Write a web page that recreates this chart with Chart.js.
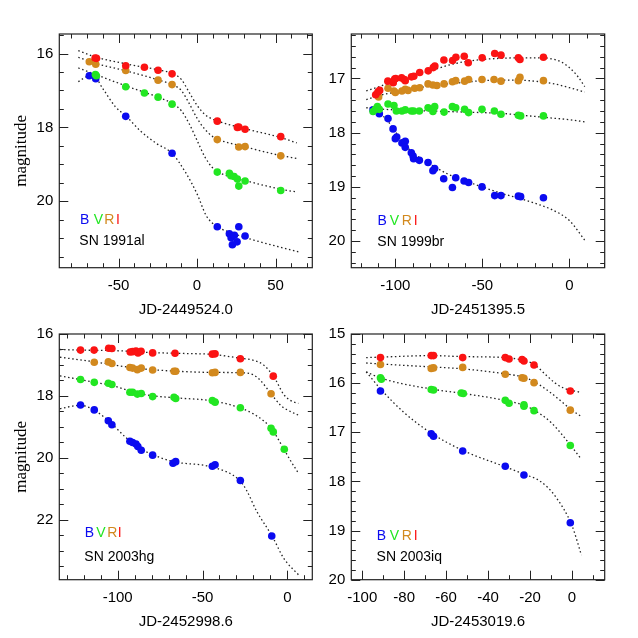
<!DOCTYPE html>
<html>
<head>
<meta charset="utf-8">
<script src="https://cdn.jsdelivr.net/npm/chart.js@4.4.0/dist/chart.umd.min.js"></script>
<style>
  body { margin: 0; background: #fff; }
  #wrap { position: relative; width: 638px; height: 638px; }
  canvas { position: absolute; }
</style>
</head>
<body>
<div id="wrap">
  <canvas id="p1" width="319" height="319" style="left:0;top:0"></canvas>
  <canvas id="p2" width="319" height="319" style="left:319px;top:0"></canvas>
  <canvas id="p3" width="319" height="319" style="left:0;top:319px"></canvas>
  <canvas id="p4" width="319" height="319" style="left:319px;top:319px"></canvas>
</div>
<script>
// band colours
const bandColors = { B: '#0b0bf0', V: '#22e622', R: '#d2891e', I: '#fb1313' };
const bands = ['I', 'R', 'V', 'B'];

// ---- SN 1991al  (JD-2449524.0) ----
const al_B = [[-68.6,16.6],[-64.5,16.68],[-45.4,17.7],[-15.9,18.7],[12.9,20.69],[20.6,20.88],[21.7,20.99],[22.5,21.18],[23.8,20.92],[25.5,21.1],[26.6,20.69],[30.6,20.94]];
const al_V = [[-64.7,16.57],[-64.1,16.6],[-45.4,16.9],[-33.5,17.07],[-24.8,17.18],[-15.9,17.37],[12.9,19.21],[20.6,19.24],[21.6,19.31],[23.6,19.33],[25.7,19.4],[26.6,19.59],[30.6,19.45],[53.3,19.71]];
const al_R = [[-68.6,16.22],[-64.5,16.29],[-45.4,16.46],[-24.8,16.72],[-15.9,16.84],[12.9,18.33],[26.6,18.53],[30.6,18.52],[53.3,18.77]];
const al_I = [[-64.9,16.12],[-64.0,16.13],[-45.4,16.33],[-33.5,16.37],[-24.8,16.45],[-15.9,16.55],[12.9,17.83],[25.7,18.0],[26.6,17.99],[30.6,18.05],[53.3,18.25]];
const al_fitB = [[-75.6,16.76],[-70,16.62],[-66,16.6],[-60,16.95],[-52,17.44],[-45,17.7],[-36,18.1],[-26,18.43],[-16,18.7],[-7,19.24],[0,19.8],[6,20.4],[13,20.69],[23,20.87],[36,21.05],[64.5,21.37]];
const al_fitV = [[-75.6,16.39],[-65,16.56],[-45,16.88],[-25,17.18],[-15,17.37],[-10,17.55],[-5,17.9],[0,18.35],[5,18.8],[10,19.1],[13,19.2],[30,19.43],[53,19.67],[63.5,19.75]];
const al_fitR = [[-75.6,16.1],[-65,16.26],[-45,16.47],[-25,16.71],[-15,16.86],[-10,17.0],[-5,17.35],[0,17.75],[5,18.05],[10,18.25],[13,18.32],[30,18.52],[53,18.76],[63.5,18.84]];
const al_fitI = [[-75.6,15.92],[-64,16.1],[-45,16.28],[-25,16.44],[-15,16.55],[-10,16.7],[-5,17.05],[0,17.4],[5,17.65],[10,17.78],[13,17.83],[30,18.03],[53,18.27],[63.5,18.42]];

// ---- SN 1999br  (JD-2451395.5) ----
const br_B = [[-112.8,17.58],[-111.5,17.58],[-109.2,17.65],[-104.2,17.74],[-101.3,17.93],[-100,18.11],[-99.2,18.08],[-96.2,18.19],[-94.3,18.16],[-94.3,18.27],[-90.8,18.37],[-89.8,18.43],[-89.5,18.48],[-86.2,18.51],[-81.2,18.55],[-78.4,18.7],[-77.4,18.66],[-72.2,18.85],[-67.2,19.01],[-65.3,18.83],[-60.5,18.89],[-57.9,18.92],[-50.2,19.0],[-42.9,19.16],[-39.3,19.16],[-29.3,19.17],[-28,19.18],[-14.9,19.2]];
const br_V = [[-112.8,17.61],[-111.5,17.57],[-110.3,17.52],[-109.2,17.57],[-104.2,17.47],[-100.8,17.5],[-99.4,17.6],[-96.2,17.6],[-94.3,17.58],[-90.8,17.6],[-89.5,17.6],[-86.2,17.6],[-81.2,17.54],[-78.4,17.61],[-77.4,17.52],[-72,17.62],[-67.2,17.52],[-65.3,17.54],[-60.2,17.57],[-57.9,17.63],[-50.2,17.57],[-43.1,17.6],[-39.3,17.66],[-29.3,17.68],[-28,17.69],[-14.9,17.69]];
const br_R = [[-109.6,17.34],[-104.2,17.18],[-100.8,17.23],[-100,17.26],[-96.2,17.23],[-94.3,17.2],[-92.7,17.22],[-88.9,17.18],[-86,17.17],[-81.2,17.1],[-78.4,17.12],[-76.1,17.13],[-72,17.1],[-67.2,17.06],[-65.3,17.04],[-60.2,17.05],[-57.9,17.02],[-50.2,17.02],[-43.3,17.02],[-39.3,17.05],[-29.3,17.04],[-28.4,16.98],[-14.9,17.04]];
const br_I = [[-111.3,17.3],[-110,17.25],[-109,17.22],[-104.3,17.05],[-101.2,17.08],[-100.4,17.01],[-99.8,17.0],[-96.4,16.99],[-94.8,17.02],[-94.3,17.04],[-90.7,16.97],[-89.4,16.96],[-86,16.89],[-81.1,16.86],[-78.2,16.8],[-77.3,16.77],[-72.1,16.66],[-67.1,16.67],[-65.2,16.61],[-60.4,16.59],[-58.1,16.71],[-50.1,16.62],[-42.9,16.54],[-39.3,16.57],[-29.3,16.62],[-28.4,16.65],[-14.9,16.61]];
const br_fitB = [[-114.8,17.54],[-110,17.62],[-105,17.76],[-100,17.98],[-95,18.2],[-90,18.37],[-85,18.48],[-80,18.58],[-70,18.76],[-60,18.89],[-50,19.0],[-40,19.11],[-30,19.2],[-20,19.3],[-10,19.42],[0,19.62],[8.8,19.98]];
const br_fitV = [[-116.7,17.54],[-110,17.56],[-100,17.58],[-90,17.59],[-80,17.6],[-70,17.61],[-60,17.62],[-50,17.63],[-40,17.64],[-30,17.67],[-20,17.7],[-10,17.73],[0,17.76],[8.8,17.8]];
const br_fitR = [[-116.7,17.39],[-110,17.32],[-100,17.25],[-90,17.19],[-80,17.14],[-70,17.1],[-60,17.07],[-50,17.04],[-40,17.03],[-30,17.03],[-20,17.05],[-10,17.09],[0,17.17],[8.8,17.25]];
const br_fitI = [[-116.7,17.23],[-110,17.16],[-100,17.04],[-90,16.95],[-80,16.86],[-70,16.76],[-60,16.69],[-50,16.65],[-40,16.63],[-30,16.62],[-20,16.62],[-15,16.62],[-10,16.64],[-5,16.69],[0,16.8],[5,16.97],[8.8,17.15]];

// ---- SN 2003hg  (JD-2452998.6) ----
const hg_B = [[-121.9,18.29],[-113.8,18.45],[-105.5,18.8],[-103.4,18.93],[-92.8,19.46],[-91.2,19.5],[-89.2,19.55],[-88.1,19.63],[-86.1,19.75],[-79.4,19.91],[-67.4,20.17],[-65.8,20.12],[-44.2,20.27],[-42.6,20.22],[-27.7,20.73],[-9.2,22.52]];
const hg_V = [[-121.9,17.47],[-113.8,17.56],[-105.5,17.59],[-103.4,17.63],[-92.8,17.88],[-91.2,17.88],[-88.4,17.94],[-86.1,17.92],[-79.4,18.02],[-66.8,18.04],[-65.8,18.08],[-44.2,18.15],[-42.6,18.2],[-27.7,18.38],[-9.6,19.04],[-8.3,19.16],[-1.8,19.72]];
const hg_R = [[-113.8,16.91],[-105.5,16.9],[-103.4,16.95],[-92.8,17.08],[-91.2,17.1],[-88.4,17.15],[-86.1,17.1],[-79.4,17.16],[-66.8,17.2],[-65.8,17.2],[-44.2,17.25],[-42.6,17.24],[-27.7,17.24],[-9.6,17.93]];
const hg_I = [[-121.9,16.52],[-113.9,16.52],[-105.3,16.46],[-103.4,16.47],[-92.6,16.58],[-91.2,16.57],[-89.2,16.55],[-88,16.61],[-86.2,16.56],[-79.4,16.61],[-66.2,16.62],[-44.2,16.65],[-42.6,16.64],[-27.7,16.8],[-8.3,17.36]];
const hg_fitB = [[-134,18.41],[-122,18.3],[-114,18.45],[-105,18.82],[-95,19.35],[-88,19.65],[-80,19.88],[-67,20.12],[-44,20.3],[-28,20.73],[-24,21.05],[-18,21.73],[-9,22.52],[-2,23.25],[6.5,23.77]];
const hg_fitV = [[-134,17.35],[-122,17.47],[-114,17.56],[-104,17.65],[-92,17.85],[-86,17.93],[-80,17.99],[-66,18.06],[-44,18.16],[-28,18.38],[-20,18.58],[-14,18.8],[-9,19.08],[-2,19.72],[2,20.1],[6.5,20.49]];
const hg_fitR = [[-134,16.75],[-120,16.85],[-110,16.93],[-100,17.02],[-90,17.1],[-80,17.15],[-66,17.2],[-44,17.24],[-28,17.25],[-20,17.32],[-16,17.49],[-10,17.9],[-4,18.3],[0,18.45],[6.5,18.62]];
const hg_fitI = [[-134,16.5],[-122,16.52],[-100,16.54],[-80,16.6],[-60,16.63],[-44,16.66],[-28,16.78],[-20,16.85],[-14,17.0],[-8,17.38],[-2,17.96],[2,18.15],[6.5,18.24]];

// ---- SN 2003iq  (JD-2453019.6) ----
const iq_B = [[-91.3,16.16],[-67.1,17.03],[-66,17.08],[-52.1,17.38],[-31.8,17.69],[-22.9,17.87],[-0.8,18.84]];
const iq_V = [[-91.3,15.89],[-90.9,15.92],[-67.1,16.13],[-66,16.14],[-52.8,16.2],[-51.8,16.21],[-31.8,16.35],[-30,16.41],[-22.9,16.44],[-22.9,16.47],[-18.1,16.56],[-0.8,17.27]];
const iq_R = [[-91.3,15.62],[-67.1,15.7],[-66,15.69],[-52.1,15.68],[-31.8,15.82],[-23.8,15.89],[-22.9,15.9],[-18.1,15.99],[-0.8,16.55]];
const iq_I = [[-91.3,15.48],[-67.1,15.44],[-66,15.44],[-52.1,15.48],[-31.8,15.48],[-30,15.51],[-23.8,15.52],[-22.9,15.55],[-18.1,15.63],[-0.8,16.16]];
const iq_fitB = [[-98.1,15.77],[-91,16.13],[-80,16.6],[-67,17.02],[-52,17.37],[-32,17.7],[-23,17.85],[-15,18.0],[-8,18.3],[0,18.9],[4.5,19.5]];
const iq_fitV = [[-98.1,15.77],[-91,15.9],[-67,16.12],[-52,16.21],[-32,16.35],[-23,16.45],[-18,16.55],[-10,16.8],[0,17.3],[4.5,17.55]];
const iq_fitR = [[-98.1,15.59],[-91,15.61],[-67,15.67],[-52,15.71],[-32,15.81],[-23,15.88],[-18,15.97],[-10,16.2],[0,16.55],[4.5,16.68]];
const iq_fitI = [[-98.1,15.48],[-91,15.47],[-67,15.44],[-52,15.46],[-32,15.48],[-24,15.53],[-18,15.62],[-12,15.85],[-8,16.0],[-4,16.1],[0,16.15],[4.5,16.19]];

// tick labels (major) per panel
const al_xLabels = [-50, 0, 50],        al_yLabels = [16, 18, 20];
const br_xLabels = [-100, -50, 0],      br_yLabels = [17, 18, 19, 20];
const hg_xLabels = [-100, -50, 0],      hg_yLabels = [16, 18, 20, 22];
const iq_xLabels = [-100, -80, -60, -40, -20, 0], iq_yLabels = [15, 16, 17, 18, 19, 20];

function range(a, b, step) {
	const out = [];
	for (let i = 0; a + i * step <= b + 1e-9; i++) out.push(Math.round((a + i * step) * 100) / 100);
	return out;
}
function toXY(arr) { return arr.map(p => ({ x: p[0], y: p[1] })); }

function setTicks(scale, minor, labels) {
	scale.ticks = minor.map(v => ({ value: v, major: labels.includes(v) }));
}
function tickLabel(v, i, t) { return t[i] && t[i].major ? String(v) : ''; }

// frame with inward ticks on all four sides + panel texts
const framePlugin = {
	id: 'frame',
	afterDraw(chart, args, opts) {
		const { ctx, chartArea: a, scales: { x, y } } = chart;
		ctx.save();
		ctx.strokeStyle = '#222';
		ctx.lineWidth = 1.2;
		ctx.strokeRect(a.left, a.top, a.width, a.height);
		ctx.lineWidth = 1;
		ctx.beginPath();
		x.ticks.forEach(t => {
			const px = Math.round(x.getPixelForValue(t.value)) + 0.5;
			const len = t.major ? 9 : 4.5;
			ctx.moveTo(px, a.bottom); ctx.lineTo(px, a.bottom - len);
			ctx.moveTo(px, a.top); ctx.lineTo(px, a.top + len);
		});
		y.ticks.forEach(t => {
			const py = Math.round(y.getPixelForValue(t.value)) + 0.5;
			const len = t.major ? 9 : 4.5;
			ctx.moveTo(a.left, py); ctx.lineTo(a.left + len, py);
			ctx.moveTo(a.right, py); ctx.lineTo(a.right - len, py);
		});
		ctx.stroke();

		// band letters, centred on the measured glyph positions
		ctx.font = '14px "Liberation Sans", Arial, sans-serif';
		ctx.textBaseline = 'alphabetic';
		ctx.textAlign = 'center';
		['B', 'V', 'R', 'I'].forEach((L, i) => {
			ctx.fillStyle = bandColors[L];
			ctx.fillText(L, a.left + opts.lx[i], a.bottom + opts.ly);
		});
		ctx.textAlign = 'left';
		ctx.fillStyle = '#000';
		ctx.fillText(opts.name, a.left + opts.nx, a.bottom + opts.ny);
		ctx.restore();
	}
};

Chart.defaults.font.family = '"Liberation Sans", Arial, sans-serif';
Chart.defaults.font.size = 15;
Chart.defaults.color = '#000';

function makePanel(id, p) {
	const datasets = [];
	bands.forEach(b => datasets.push({
		type: 'scatter', data: toXY(p.pts[b]), backgroundColor: bandColors[b],
		pointRadius: 3.8, pointHoverRadius: 3.8, borderWidth: 0
	}));
	bands.forEach(b => datasets.push({
		type: 'line', data: toXY(p.fits[b]), showLine: true, borderColor: '#222', borderWidth: 1.3,
		borderDash: [1.5, 2.6], pointRadius: 0, fill: false, cubicInterpolationMode: 'monotone'
	}));
	new Chart(document.getElementById(id), {
		type: 'scatter',
		data: { datasets: datasets },
		options: {
			responsive: false,
			animation: false,
			devicePixelRatio: 1,
			layout: { padding: { top: p.padTop, right: p.padRight, left: 0, bottom: 0 } },
			plugins: {
				legend: { display: false },
				tooltip: { enabled: false },
				frame: p.text
			},
			scales: {
				x: {
					type: 'linear', min: p.xMin, max: p.xMax,
					afterFit: s => { s.height = p.xh; },
					afterBuildTicks: s => setTicks(s, p.xMinor, p.xLabels),
					grid: { display: false, drawTicks: false },
					border: { display: false },
					ticks: { autoSkip: false, maxRotation: 0, padding: 9, callback: tickLabel },
					title: { display: true, text: p.xTitle, font: { size: 15 }, padding: { top: 0, bottom: p.xh - 51.3 } }
				},
				y: {
					type: 'linear', min: p.yMin, max: p.yMax, reverse: true,
					afterFit: s => { s.width = p.yw; },
					afterBuildTicks: s => setTicks(s, p.yMinor, p.yLabels),
					grid: { display: false, drawTicks: false },
					border: { display: false },
					ticks: { autoSkip: false, padding: 6, callback: tickLabel },
					title: {
						display: p.yTitle, text: 'magnitude',
						font: { family: '"Liberation Serif", "Times New Roman", serif', size: 17 },
						padding: { top: 11, bottom: 0 }
					}
				}
			}
		},
		plugins: [framePlugin]
	});
}

makePanel('p1', {
	pts: { B: al_B, V: al_V, R: al_R, I: al_I },
	fits: { B: al_fitB, V: al_fitV, R: al_fitR, I: al_fitI },
	xMin: -87.7, xMax: 73.4, yMin: 15.47, yMax: 21.8,
	xMinor: range(-80, 70, 10), xLabels: al_xLabels,
	yMinor: range(15.5, 21.5, 0.5), yLabels: al_yLabels,
	padTop: 34, padRight: 6.7, yw: 59.3, xh: 51.3,
	xTitle: 'JD-2449524.0', yTitle: true,
	text: { name: 'SN 1991al', lx: [25.4, 39, 49.9, 58.7], ly: -43.7, nx: 20, ny: -22.7 }
});
makePanel('p2', {
	pts: { B: br_B, V: br_V, R: br_R, I: br_I },
	fits: { B: br_fitB, V: br_fitV, R: br_fitR, I: br_fitI },
	xMin: -125.3, xMax: 20.3, yMin: 16.18, yMax: 20.49,
	xMinor: range(-120, 20, 10), xLabels: br_xLabels,
	yMinor: range(16.2, 20.4, 0.2), yLabels: br_yLabels,
	padTop: 34, padRight: 33.3, yw: 32.3, xh: 51.3,
	xTitle: 'JD-2451395.5', yTitle: false,
	text: { name: 'SN 1999br', lx: [30.9, 43, 55.5, 64.4], ly: -42.7, nx: 26, ny: -21.8 }
});
makePanel('p3', {
	pts: { B: hg_B, V: hg_V, R: hg_R, I: hg_I },
	fits: { B: hg_fitB, V: hg_fitV, R: hg_fitR, I: hg_fitI },
	xMin: -134.4, xMax: 14.7, yMin: 16, yMax: 23.93,
	xMinor: range(-130, 10, 10), xLabels: hg_xLabels,
	yMinor: range(16, 23.5, 0.5), yLabels: hg_yLabels,
	padTop: 8.3, padRight: 6.7, yw: 59.3, xh: 58.3,
	xTitle: 'JD-2452998.6', yTitle: true,
	text: { name: 'SN 2003hg', lx: [30.2, 41.6, 52.9, 60.5], ly: -43, nx: 25, ny: -19 }
});
makePanel('p4', {
	pts: { B: iq_B, V: iq_V, R: iq_R, I: iq_I },
	fits: { B: iq_fitB, V: iq_fitV, R: iq_fitR, I: iq_fitI },
	xMin: -105.2, xMax: 15.6, yMin: 15, yMax: 20,
	xMinor: range(-100, 10, 10), xLabels: iq_xLabels,
	yMinor: range(15, 20, 0.2), yLabels: iq_yLabels,
	padTop: 8.3, padRight: 33.3, yw: 32.3, xh: 58.3,
	xTitle: 'JD-2453019.6', yTitle: false,
	text: { name: 'SN 2003iq', lx: [30.2, 43, 55.5, 64.5], ly: -40, nx: 25.3, ny: -18.7 }
});
</script>
</body>
</html>
